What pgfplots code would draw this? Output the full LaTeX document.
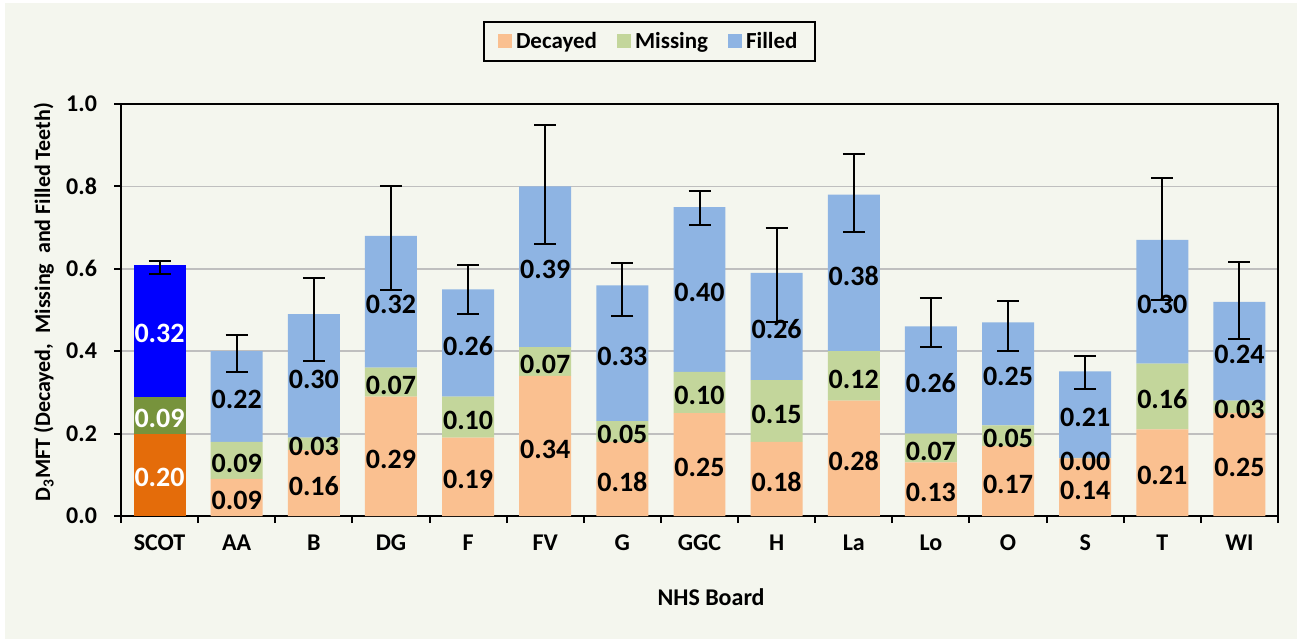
\documentclass[border=0pt]{standalone}
\usepackage{pgfplots}
\pgfplotsset{compat=1.18}
\usepackage{pgfplotstable}
\usepackage{fontspec}
\setmainfont{Carlito}
\definecolor{bgc}{HTML}{F4F6EE}
\definecolor{dec}{HTML}{FAC090}
\definecolor{mis}{HTML}{C3D69B}
\definecolor{fil}{HTML}{8EB4E3}
\definecolor{sdec}{HTML}{E46C0A}
\definecolor{smis}{HTML}{77933C}
\definecolor{sfil}{HTML}{0000FF}
\definecolor{gridc}{HTML}{BFBFBF}

\pgfplotstableread{
x D M F ep em
1 0.09 0.09 0.22 0.039 0.051
2 0.16 0.03 0.30 0.088 0.113
3 0.29 0.07 0.32 0.120 0.131
4 0.19 0.10 0.26 0.060 0.060
5 0.34 0.07 0.39 0.150 0.140
6 0.18 0.05 0.33 0.055 0.074
7 0.25 0.10 0.40 0.039 0.043
8 0.18 0.15 0.26 0.110 0.120
9 0.28 0.12 0.38 0.098 0.091
10 0.13 0.07 0.26 0.070 0.051
11 0.17 0.05 0.25 0.051 0.069
12 0.14 0.001 0.21 0.038 0.042
13 0.21 0.16 0.30 0.150 0.145
14 0.25 0.03 0.24 0.096 0.091
}\boards

\pgfplotstableread{
x D M F ep em
0 0.20 0.09 0.32 0.008 0.023
}\scot

\pgfplotsset{
  common/.style={
    at={(60.5pt,61.5pt)}, anchor=south west,
    scale only axis, width=578.5pt, height=206pt,
    xmin=-0.5, xmax=14.5, ymin=0, ymax=1,
    ybar stacked, bar width=0.674,
    /pgf/number format/assume math mode=true,
    point meta=rawy,
    nodes near coords={\pgfmathprintnumber[fixed,fixed zerofill,precision=2]{\pgfplotspointmeta}},
    nodes near coords align={center},
    every node near coord/.append style={anchor=center, yshift=-1.5pt,
      font=\fontsize{14}{16}\selectfont\bfseries},
    error bars/error bar style={line width=1pt, black},
    error bars/error mark options={rotate=90, black, line width=1pt, mark size=5.5pt},
  },
}

\begin{document}
\begin{tikzpicture}
\useasboundingbox (0,0) rectangle (648.5pt,319.5pt);
\fill[bgc] (2.5pt,0) rectangle (648.5pt,318pt);
\begin{axis}[common,
  axis line style={line width=1pt, black},
  ymajorgrids, grid style={color=gridc, line width=0.9pt},
  ytick={0,0.2,0.4,0.6,0.8,1.0},
  tick pos=left,
  tick align=outside, major tick length=3.5pt,
  tick style={black, line width=1pt},
  xtick={-0.5,0.5,...,14.5}, xticklabels={},
  extra x ticks={0,1,...,14},
  extra x tick labels={SCOT,AA,B,DG,F,FV,G,GGC,H,La,Lo,O,S,T,WI},
  extra x tick style={major tick length=0pt, grid=none},
  ticklabel style={font=\fontsize{12}{14}\selectfont\bfseries},
  xticklabel style={yshift=-6pt},
  yticklabel style={xshift=-5pt, /pgf/number format/fixed, /pgf/number format/fixed zerofill, /pgf/number format/precision=1},
  xlabel={NHS Board},
  xlabel style={at={(axis description cs:0.51,-0.197)}, anchor=center, font=\fontsize{12}{14}\selectfont\bfseries},
  ylabel={D\textsubscript{3}MFT (Decayed,\ \ Missing\ \ and Filled Teeth)},
  ylabel style={at={(axis description cs:-0.0666,0.519)}, rotate=0, anchor=center, font=\fontsize{11}{13}\selectfont\bfseries},
  legend columns=3,
  legend style={at={(axis description cs:0.457,1)}, anchor=south, yshift=21pt,
    draw=black, line width=1pt, fill=bgc, font=\fontsize{11.5}{13}\selectfont\bfseries,
    inner xsep=7pt, inner ysep=3pt,
    /tikz/every even column/.append style={column sep=8pt}},
  legend image code/.code={\fill[#1] (0pt,-3.5pt) rectangle (7pt,3.5pt);},
]
\addplot[fill=dec, draw=none] table[x=x,y=D]{\boards};
\addplot[fill=mis, draw=none] table[x=x,y=M]{\boards};
\addplot[fill=fil, draw=none, error bars/.cd, y dir=both, y explicit]
  table[x=x,y=F,y error plus=ep,y error minus=em]{\boards};
\legend{Decayed,Missing,Filled}
\end{axis}
\begin{axis}[common, hide axis,
  every node near coord/.append style={text=white}]
\addplot[fill=sdec, draw=none] table[x=x,y=D]{\scot};
\addplot[fill=smis, draw=none] table[x=x,y=M]{\scot};
\addplot[fill=sfil, draw=none, error bars/.cd, y dir=both, y explicit]
  table[x=x,y=F,y error plus=ep,y error minus=em]{\scot};
\end{axis}
\end{tikzpicture}
\end{document}
